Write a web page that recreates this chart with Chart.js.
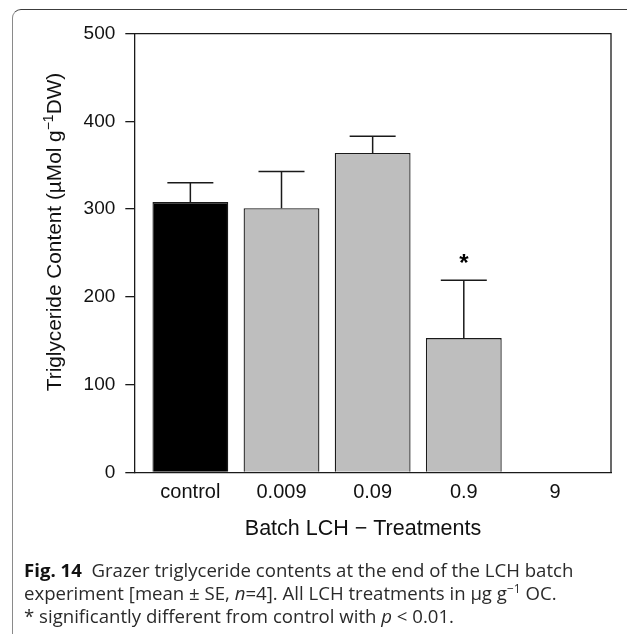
<!DOCTYPE html>
<html>
<head>
<meta charset="utf-8">
<script src="https://cdn.jsdelivr.net/npm/chart.js@4/dist/chart.umd.min.js"></script>
<style>
  html, body { margin: 0; padding: 0; background: #fff; }
  #wrap { position: relative; width: 627px; height: 634px; overflow: hidden; }
  #frame {
    position: absolute; left: 12px; top: 9px; width: 700px; height: 700px;
    border-top: 1.5px solid #3c3c3c; border-left: 1.5px solid #8a8a8a;
    border-top-left-radius: 9px; box-sizing: border-box;
  }
  #chart { position: absolute; left: 0; top: 0; }
  #caption {
    position: absolute; left: 24px; top: 558px; white-space: nowrap;
    font-family: 'Open Sans', 'Noto Sans', sans-serif; font-size: 18.6px; line-height: 23px;
    color: #2a2a2a; letter-spacing: 0;
  }
  #caption b { font-weight: 700; color: #111; }
  #caption sup { font-size: 12px; vertical-align: 7px; line-height: 0; }
</style>
</head>
<body>
<div id="wrap">
  <div id="frame"></div>
  <canvas id="chart" width="627" height="634"></canvas>
  <div id="caption">
    <b>Fig. 14</b>&nbsp; Grazer triglyceride contents at the end of the LCH batch<br>
    experiment [mean ± SE, <i>n</i>=4]. All LCH treatments in µg g<sup>−1</sup> OC.<br>
    * significantly different from control with <i>p</i> &lt; 0.01.
  </div>
</div>
<script>
// Grazer triglyceride content per LCH batch treatment (mean and standard error)
const categories = ['control', '0.009', '0.09', '0.9', '9'];
const means = [308, 301, 364, 153, 0];
const stdErr = [22, 42, 19, 66, 0];
const significant = [false, false, false, true, false];
const yTicks = [0, 100, 200, 300, 400, 500];

const FONT = "'Liberation Sans', Arial, sans-serif";
const INK = '#1a1a1a';

// Upper error whiskers, significance marks, frame lines and axis titles
const decorations = {
  id: 'decorations',
  afterDatasetsDraw(chart) {
    const { ctx, chartArea: a, scales: { x, y } } = chart;
    ctx.save();
    ctx.strokeStyle = INK;
    ctx.lineWidth = 1.3;
    ctx.beginPath();
    ctx.moveTo(a.left, a.top);
    ctx.lineTo(a.right, a.top);
    ctx.lineTo(a.right, a.bottom);
    ctx.stroke();

    ctx.lineWidth = 1.5;
    means.forEach((m, i) => {
      if (!stdErr[i]) return;
      const cx = x.getPixelForValue(i);
      const y0 = y.getPixelForValue(m);
      const y1 = y.getPixelForValue(m + stdErr[i]);
      ctx.beginPath();
      ctx.moveTo(cx, y0);
      ctx.lineTo(cx, y1);
      ctx.moveTo(cx - 23, y1);
      ctx.lineTo(cx + 23, y1);
      ctx.stroke();
      if (significant[i]) {
        ctx.fillStyle = '#000';
        ctx.font = 'bold 24px ' + FONT;
        ctx.textAlign = 'center';
        ctx.textBaseline = 'alphabetic';
        ctx.fillText('*', cx, y1 - 9);
      }
    });
    ctx.restore();
  },
  afterDraw(chart) {
    const { ctx } = chart;
    ctx.save();
    ctx.fillStyle = '#111';
    // x-axis title
    ctx.font = '21.5px ' + FONT;
    ctx.textAlign = 'center';
    ctx.textBaseline = 'middle';
    ctx.fillText('Batch LCH \u2212 Treatments', 363, 529);

    // y-axis title with superscript exponent
    const main = 'Triglyceride Content (\u00b5Mol g';
    const sup = '\u22121';
    const tail = 'DW)';
    const big = '20.8px ' + FONT, small = '14px ' + FONT;
    ctx.font = big;
    const w1 = ctx.measureText(main).width;
    const w3 = ctx.measureText(tail).width;
    ctx.font = small;
    const w2 = ctx.measureText(sup).width;
    const total = w1 + w2 + w3;
    ctx.translate(61, 232);
    ctx.rotate(-Math.PI / 2);
    ctx.textAlign = 'left';
    ctx.textBaseline = 'alphabetic';
    let sx = -total / 2;
    ctx.font = big;
    ctx.fillText(main, sx, 0);
    sx += w1;
    ctx.font = small;
    ctx.fillText(sup, sx, -8.5);
    sx += w2;
    ctx.font = big;
    ctx.fillText(tail, sx, 0);
    ctx.restore();
  }
};

new Chart(document.getElementById('chart'), {
  type: 'bar',
  data: {
    datasets: [{
      data: categories.map((c, i) => ({ x: i, y: means[i] })),
      backgroundColor: categories.map((c, i) => (i === 0 ? '#000000' : '#bebebe')),
      borderColor: INK,
      borderWidth: 1.3,
      borderSkipped: 'bottom',
      barPercentage: 0.832,
      categoryPercentage: 1
    }]
  },
  options: {
    responsive: false,
    animation: false,
    events: [],
    layout: { padding: { left: 0, top: 33.7, right: 16, bottom: 121.7 } },
    plugins: { legend: { display: false }, tooltip: { enabled: false } },
    scales: {
      x: {
        type: 'linear',
        offset: false,
        min: -0.615,
        max: 4.615,
        afterBuildTicks: s => { s.ticks = categories.map((c, i) => ({ value: i })); },
        afterFit: s => { s.height = 40; },
        grid: { display: false, drawTicks: false, offset: false },
        border: { display: true, color: INK, width: 1.3 },
        ticks: {
          autoSkip: false,
          maxRotation: 0,
          padding: 8,
          color: '#111',
          font: { family: FONT, size: 20 },
          callback: v => categories[v] ?? ''
        }
      },
      y: {
        min: 0,
        max: 500,
        afterBuildTicks: s => { s.ticks = yTicks.map(v => ({ value: v })); },
        afterFit: s => { s.width = 134.3; },
        grid: { drawOnChartArea: false, drawTicks: true, tickLength: 9, color: INK, lineWidth: 1.3 },
        border: { display: true, color: INK, width: 1.3 },
        ticks: {
          padding: 10,
          color: '#111',
          font: { family: FONT, size: 19 }
        }
      }
    }
  },
  plugins: [decorations]
});
</script>
</body>
</html>
